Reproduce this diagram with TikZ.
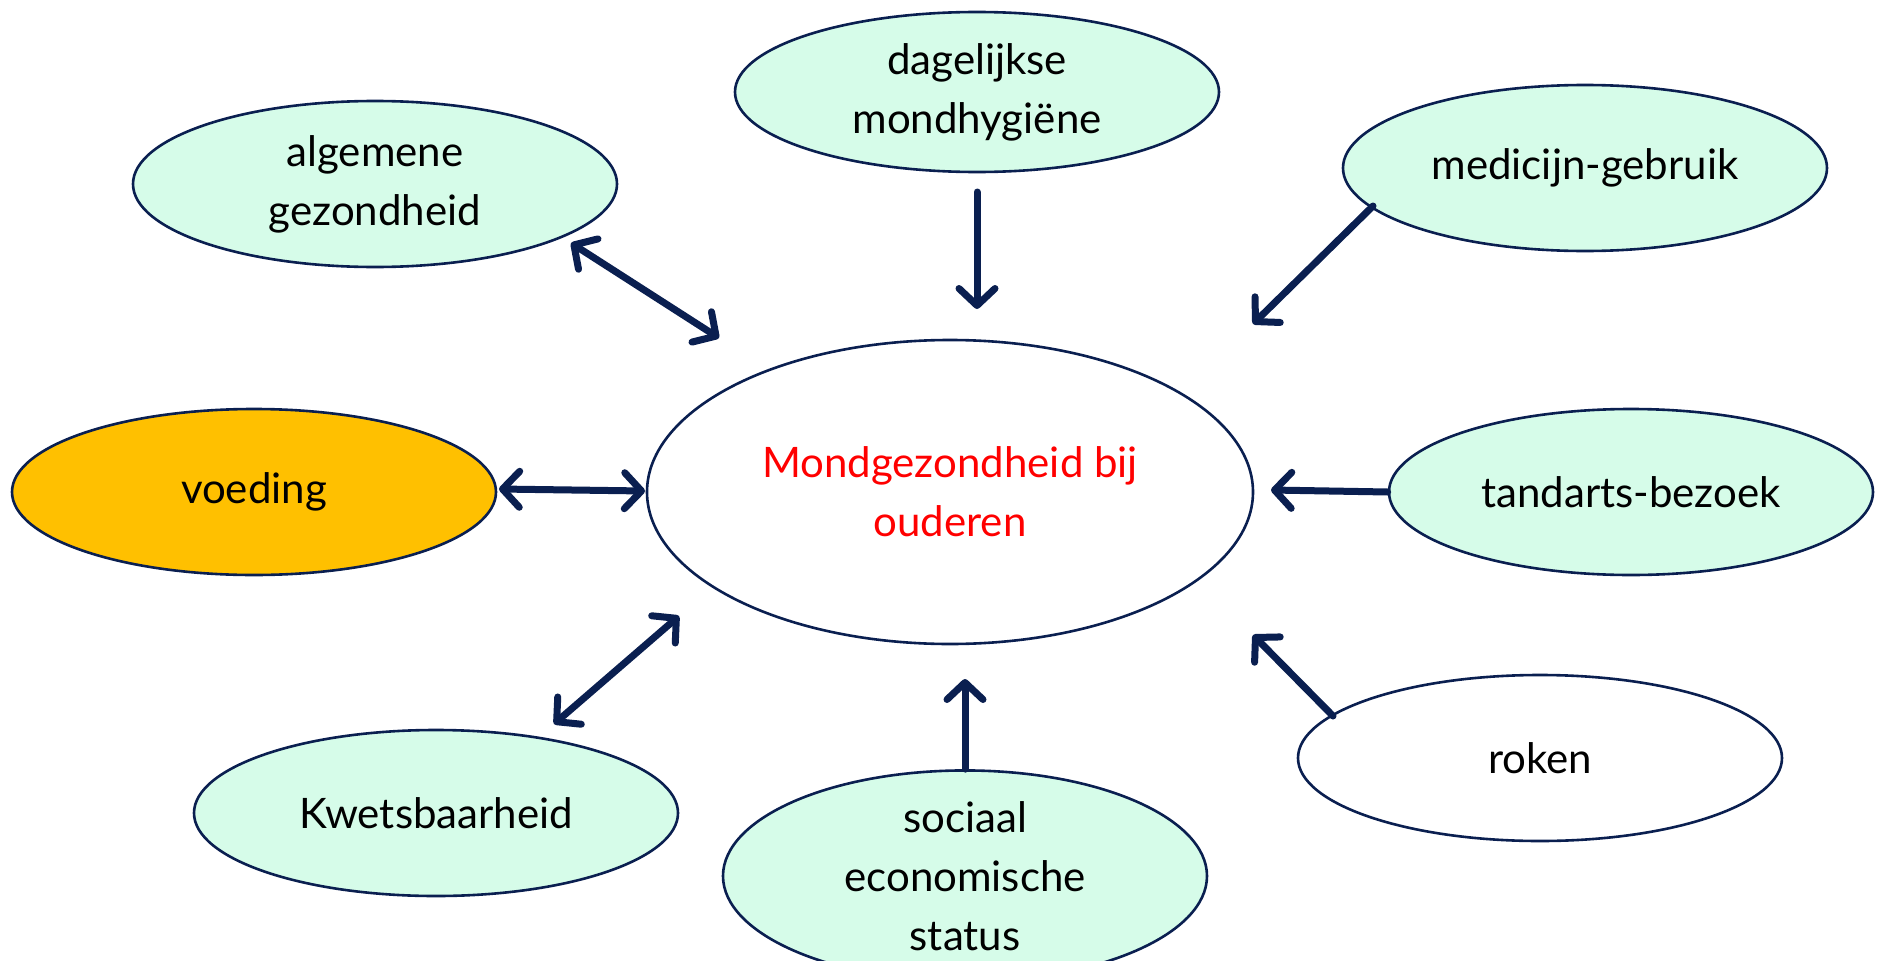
\documentclass[tikz,border=0pt]{standalone}
\usepackage{fontspec}
\setmainfont{Lato}
\usetikzlibrary{shapes.geometric,arrows.meta}
\definecolor{navy}{HTML}{0A1F50}
\definecolor{mint}{HTML}{D6FCE9}
\definecolor{amber}{HTML}{FFC000}
\tikzset{
  bubble/.style={ellipse, draw=navy, line width=2.6pt, fill=mint, inner sep=0pt,
    minimum width=484pt, minimum height=166pt, align=center,
    font=\fontsize{42}{59}\selectfont, text=black},
  navytip/.tip={Straight Barb[length=17pt,width=36pt,line width=7pt,round]},
  link/.style={draw=navy, line width=7pt, line cap=round, -navytip},
  blink/.style={draw=navy, line width=7pt, line cap=round, navytip-navytip}
}
\begin{document}
\begin{tikzpicture}[x=1pt,y=-1pt]
\useasboundingbox[fill=white] (0,0) rectangle (1880,961);
\node[bubble, minimum width=606pt, minimum height=304pt, fill=white] (mg) at (950,492) {\textcolor{red}{Mondgezondheid bij}\\\textcolor{red}{ouderen}};
\node[bubble] (alg) at (375,184) {algemene\\gezondheid};
\node[bubble, minimum height=160pt] (dag) at (977,92) {dagelijkse\\mondhygiëne};
\node[bubble] (med) at (1585,168) {medicijn-gebruik};
\node[bubble, fill=amber] (voe) at (254,492) {voeding};
\node[bubble] (tan) at (1631,492) {tandarts-bezoek};
\node[bubble, fill=white] (rok) at (1540,758) {roken};
\node[bubble] (kwe) at (436,813) {Kwetsbaarheid};
\node[bubble, minimum height=162pt] (soc) at (965,876) {sociaal\\economische\\status};

\coordinate (a1) at (571,243); \coordinate (a2) at (719,338);
\coordinate (d1) at (977,192); \coordinate (d2) at (977,309);
\coordinate (m1) at (1373,206); \coordinate (m2) at (1253,324);
\coordinate (v1) at (499,489); \coordinate (v2) at (645,491);
\coordinate (t1) at (tan.west); \coordinate (t2) at (1271,490);
\coordinate (r1) at (1333,716); \coordinate (r2) at (1253,635);
\coordinate (k1) at (554,724); \coordinate (k2) at (679,616);
\coordinate (s1) at (soc.north); \coordinate (s2) at (965,679);

\draw[blink] (a1) -- (a2);
\draw[link] (d1) -- (d2);
\draw[link] (m1) -- (m2);
\draw[blink] (v1) -- (v2);
\draw[link] (t1) -- (t2);
\draw[link] (r1) -- (r2);
\draw[blink] (k1) -- (k2);
\draw[link] (s1) -- (s2);
\end{tikzpicture}
\end{document}
